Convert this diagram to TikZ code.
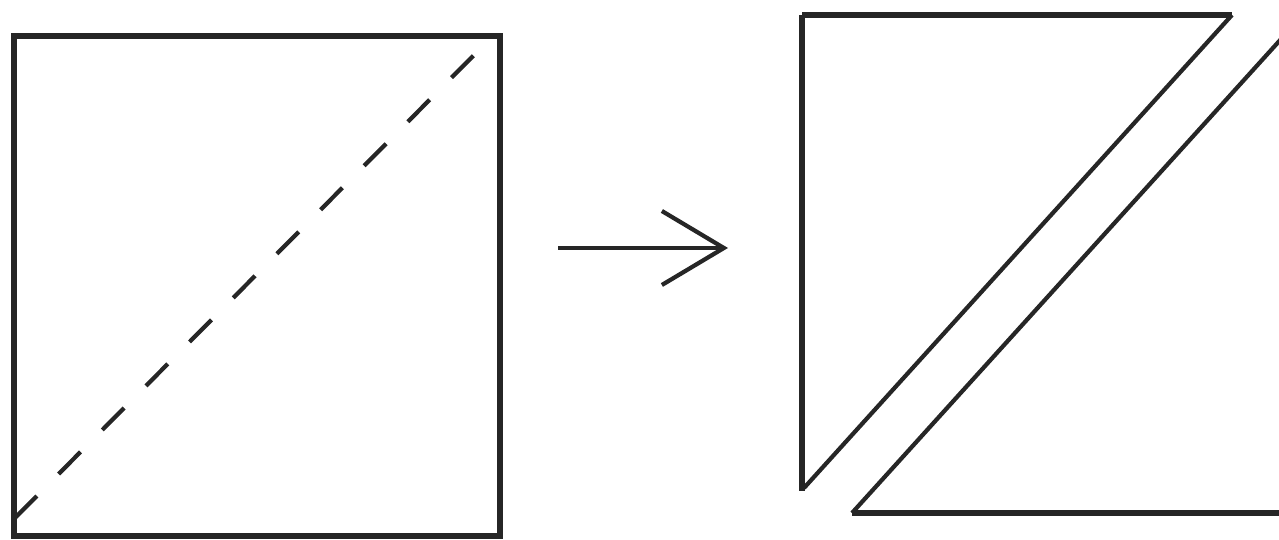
\documentclass[tikz,border=0pt]{standalone}
\usetikzlibrary{arrows.meta}
\tikzset{
    edge/.style={line width=1.5pt, black!85},
    cutline/.style={line width=1.2pt, black!85, dash pattern=on 0.31cm off 0.31cm},
    slit/.style={line width=1.2pt, black!85},
}
\begin{document}
\begin{tikzpicture}
    \useasboundingbox (0,0) rectangle (12.79,5.40);

    % 左：正方形与虚线对角线
    \begin{scope}[shift={(0.14,0.04)}]
        \draw[edge] (0,0) rectangle (4.86,5.00);
        \draw[cutline] (0.01,0.18) -- (4.64,4.85);
    \end{scope}

    % 中：箭头
    \coordinate (from) at (5.58,2.92);
    \coordinate (to) at (7.28,2.92);
    \draw[line width=1.2pt, black!85, -{Straight Barb[length=0.62cm, width=0.74cm, line width=1.2pt]}] (from) -- (to);

    % 右：沿对角线分开的两个三角形
    \begin{scope}[shift={(8.02,0.27)}]
        \draw[edge, line join=miter] (0,4.98) -- (4.30,4.98);
        \draw[slit] (4.30,4.98) -- (0.02,0.25);
        \draw[edge] (0,4.98) -- (0,0.22);
        \draw[edge] (0.50,0) -- (4.80,0) -- (4.80,4.75);
        \draw[slit] (0.50,0) -- (4.80,4.75);
    \end{scope}
\end{tikzpicture}
\end{document}
